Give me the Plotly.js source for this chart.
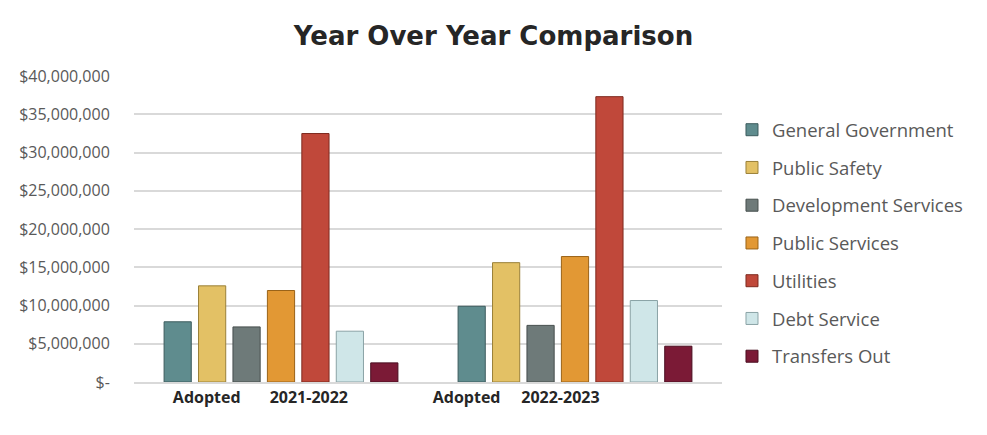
<!DOCTYPE html>
<html>
<head>
<meta charset="utf-8">
<script src="https://cdn.plot.ly/plotly-3.0.1.min.js"></script>
<style>html,body{margin:0;padding:0;background:#fff;}#chart{width:987px;height:435px;}</style>
</head>
<body>
<div id="chart"></div>
<script>
// Data
var periods = ["Adopted\u00A0\u00A0\u00A0\u00A0\u00A0\u00A0\u00A02021-2022", "Adopted\u00A0\u00A0\u00A0\u00A0\u00A02022-2023"];
var seriesNames = ["General Government", "Public Safety", "Development Services", "Public Services", "Utilities", "Debt Service", "Transfers Out"];
var generalGovernment = [7870000, 9900000];
var publicSafety = [12570000, 15600000];
var developmentServices = [7200000, 7400000];
var publicServices = [11960000, 16400000];
var utilities = [32480000, 37300000];
var debtService = [6640000, 10650000];
var transfersOut = [2500000, 4680000];
var yTickValues = [0, 5000000, 10000000, 15000000, 20000000, 25000000, 30000000, 35000000, 40000000];
var yTickLabels = ["$-", "$5,000,000", "$10,000,000", "$15,000,000", "$20,000,000", "$25,000,000", "$30,000,000", "$35,000,000", "$40,000,000"];

var seriesValues = [generalGovernment, publicSafety, developmentServices, publicServices, utilities, debtService, transfersOut];
var colors = ["#5f8c8e", "#e3c165", "#6e7a79", "#e29834", "#c0483a", "#cfe6e8", "#7b1a36"];
var edge = ["#3d5c5e", "#9a8038", "#464e4d", "#9a6318", "#7e2a1f", "#8aa3a6", "#4a0e20"];

var xIdx = periods.map(function(_, i){ return i; });
var labelOffsets = [-0.07, -0.2];

var traces = seriesNames.map(function(name, k){
  return {
    type: "bar",
    name: name,
    x: xIdx,
    y: seriesValues[k],
    legendgroup: "g" + k,
    marker: {color: colors[k], line: {color: edge[k], width: 1}},
    hoverinfo: "name+y"
  };
});

var layout = {
  width: 987, height: 435,
  paper_bgcolor: "#ffffff", plot_bgcolor: "#ffffff",
  margin: {l: 134, r: 265, t: 76, b: 53},
  title: {text: "<b>Year Over Year Comparison</b>", x: 0.5, xref: "container", xanchor: "center", y: 0.917, yanchor: "middle",
          font: {family: "DejaVu Sans, Verdana, sans-serif", size: 26, color: "#262626"}},
  barmode: "group", bargap: 0.18, bargroupgap: 0.21,
  xaxis: {
    range: [-0.5, 1.5], tickmode: "array",
    tickvals: xIdx.map(function(i){ return i + labelOffsets[i]; }),
    ticktext: periods,
    showgrid: false, zeroline: false, showline: true, linecolor: "#d9d9d9", linewidth: 2,
    ticks: "", tickfont: {family: "Open Sans, sans-serif", size: 16, color: "#262626", weight: "bold"}
  },
  yaxis: {
    range: [0, 40000000], tickmode: "array", tickvals: yTickValues, ticktext: yTickLabels,
    showgrid: true, gridcolor: "#d9d9d9", gridwidth: 2, zeroline: false, showline: false,
    ticks: "outside", ticklen: 20, tickcolor: "rgba(0,0,0,0)",
    tickfont: {family: "Open Sans, sans-serif", size: 16, color: "#595959"}
  },
  legend: {x: 1.017, xanchor: "left", y: 0.885, yanchor: "top", tracegroupgap: 10.7,
           font: {family: "Open Sans, sans-serif", size: 18.5, color: "#595959"}, bgcolor: "rgba(0,0,0,0)"},
  showlegend: true
};

Plotly.newPlot("chart", traces, layout, {displayModeBar: false, staticPlot: true});
</script>
</body>
</html>
